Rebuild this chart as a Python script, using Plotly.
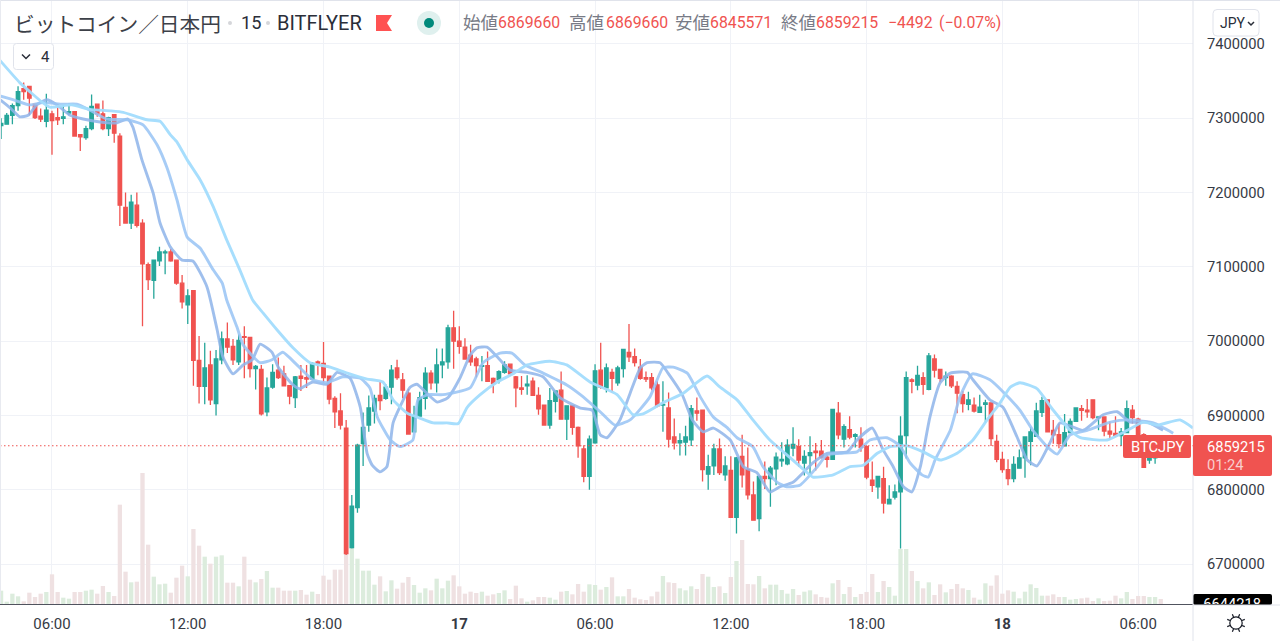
import math
import numpy as np
import plotly.graph_objects as go

# prices are in thousand yen
bars = list(range(-9, 197))

opens = [7290, 7292, 7304, 7317, 7340, 7343, 7319, 7303, 7296,
    7306, 7301, 7300, 7307, 7309, 7278, 7274, 7286, 7319, 7306,
    7286, 7305, 7276, 7180, 7159, 7183, 7159, 7103, 7082, 7108,
    7119, 7120, 7109, 7078, 7049, 7068, 6974, 6939, 6968, 6916,
    6975, 7003, 6993, 6972, 7006, 7005, 6963, 6962, 6905, 6938,
    6961, 6956, 6940, 6924, 6953, 6951, 6949, 6972, 6970, 6953,
    6923, 6906, 6883, 6722, 6776, 6862, 6887, 6906, 6927, 6923,
    6938, 6964, 6948, 6930, 6878, 6899, 6923, 6957, 6944, 6968,
    6972, 7018, 7000, 6992, 6981, 6976, 6966, 6967, 6950, 6948,
    6958, 6969, 6952, 6937, 6940, 6946, 6927, 6914, 6887, 6919,
    6934, 6895, 6913, 6884, 6855, 6818, 6863, 6961, 6937, 6958,
    6944, 6963, 6985, 6979, 6965, 6951, 6951, 6941, 6914, 6910,
    6871, 6863, 6864, 6867, 6906, 6907, 6821, 6832, 6855, 6820,
    6826, 6763, 6845, 6827, 6793, 6761, 6818, 6815, 6828, 6839,
    6835, 6856, 6858, 6836, 6846, 6852, 6852, 6844, 6841, 6903,
    6868, 6881, 6872, 6868, 6858, 6813, 6804, 6815, 6781, 6790,
    6797, 6873, 6948, 6941, 6951, 6935, 6976, 6962, 6951, 6953,
    6939, 6928, 6915, 6914, 6904, 6915, 6917, 6865, 6841, 6827,
    6815, 6829, 6843, 6865, 6872, 6904, 6921, 6880, 6874, 6859,
    6877, 6892, 6909, 6907, 6921, 6897, 6898, 6879, 6876, 6873,
    6877, 6907, 6895, 6874, 6840, 6843, 6869.66]

closes = [7293, 7304, 7317, 7336, 7336, 7327, 7301, 7299, 7311,
    7297, 7298, 7302, 7309, 7276, 7275, 7286, 7316, 7306, 7286,
    7301, 7280, 7183, 7159, 7187, 7156, 7104, 7083, 7109, 7120,
    7120, 7108, 7078, 7053, 7061, 6974, 6939, 6964, 6921, 6976,
    7003, 6992, 6975, 7001, 7005, 6963, 6966, 6902, 6937, 6958,
    6951, 6940, 6926, 6952, 6950, 6949, 6970, 6970, 6951, 6922,
    6905, 6887, 6714, 6778, 6860, 6884, 6910, 6923, 6920, 6938,
    6961, 6951, 6934, 6875, 6899, 6924, 6957, 6944, 6968, 6972,
    7018, 7000, 6993, 6976, 6972, 6967, 6967, 6946, 6943, 6959,
    6968, 6956, 6937, 6935, 6942, 6927, 6909, 6887, 6920, 6933,
    6895, 6913, 6884, 6859, 6818, 6868, 6960, 6938, 6964, 6950,
    6964, 6989, 6979, 6971, 6950, 6949, 6937, 6913, 6915, 6868,
    6863, 6866, 6871, 6909, 6903, 6827, 6831, 6855, 6823, 6832,
    6763, 6843, 6820, 6793, 6759, 6818, 6815, 6829, 6844, 6841,
    6860, 6861, 6840, 6845, 6850, 6850, 6844, 6841, 6908, 6874,
    6885, 6871, 6874, 6857, 6817, 6806, 6818, 6782, 6787, 6797,
    6872, 6951, 6946, 6954, 6942, 6980, 6961, 6950, 6953, 6940,
    6930, 6916, 6921, 6906, 6911, 6917, 6869, 6841, 6827, 6815,
    6834, 6843, 6871, 6878, 6906, 6920, 6878, 6874, 6862, 6877,
    6892, 6910, 6907, 6905, 6897, 6898, 6879, 6875, 6873, 6878,
    6909, 6897, 6874, 6830, 6842, 6844, 6859.215]

highs = [7300, 7307, 7320, 7343, 7348, 7343, 7319, 7313, 7333,
    7310, 7319, 7318, 7320, 7309, 7278, 7290, 7332, 7319, 7324,
    7302, 7305, 7280, 7200, 7197, 7200, 7164, 7106, 7109, 7127,
    7123, 7124, 7109, 7089, 7070, 7069, 7007, 6998, 6987, 6988,
    7013, 7025, 7003, 7009, 7020, 7005, 6968, 6968, 6951, 6969,
    6978, 6967, 6941, 6953, 6968, 6968, 6972, 6974, 6999, 6953,
    6926, 6930, 6894, 6793, 6862, 6904, 6927, 6928, 6945, 6942,
    6968, 6975, 6957, 6936, 6913, 6932, 6965, 6961, 6990, 6990,
    7022, 7041, 7020, 7004, 6995, 6979, 6980, 6986, 6951, 6961,
    6973, 6969, 6953, 6953, 6954, 6951, 6938, 6914, 6937, 6933,
    6959, 6913, 6914, 6885, 6860, 6873, 6969, 6998, 6970, 6963,
    6967, 6989, 7023, 6990, 6976, 6959, 6957, 6946, 6946, 6931,
    6896, 6876, 6886, 6914, 6924, 6907, 6847, 6862, 6869, 6845,
    6845, 6844, 6874, 6857, 6811, 6818, 6838, 6832, 6850, 6864,
    6868, 6884, 6868, 6853, 6872, 6863, 6867, 6849, 6909, 6918,
    6888, 6899, 6876, 6884, 6860, 6838, 6818, 6831, 6806, 6807,
    6899, 6959, 6950, 6967, 6958, 6984, 6982, 6963, 6959, 6954,
    6946, 6933, 6932, 6924, 6928, 6921, 6917, 6874, 6851, 6841,
    6845, 6854, 6871, 6884, 6917, 6925, 6921, 6894, 6889, 6902,
    6896, 6910, 6914, 6922, 6921, 6898, 6899, 6892, 6899, 6883,
    6920, 6914, 6897, 6876, 6845, 6845, 6869.66]

lows = [7272, 7292, 7292, 7310, 7325, 7304, 7299, 7295, 7288,
    7251, 7291, 7292, 7304, 7276, 7256, 7271, 7284, 7302, 7284,
    7276, 7267, 7155, 7159, 7151, 7153, 7020, 7069, 7057, 7101,
    7090, 7107, 7076, 7044, 7023, 6940, 6916, 6915, 6914, 6900,
    6969, 6984, 6968, 6968, 6950, 6951, 6935, 6900, 6899, 6936,
    6949, 6939, 6915, 6910, 6933, 6937, 6948, 6954, 6944, 6915,
    6883, 6881, 6712, 6721, 6769, 6832, 6878, 6889, 6907, 6921,
    6915, 6948, 6923, 6875, 6878, 6898, 6908, 6935, 6931, 6950,
    6963, 6963, 6983, 6975, 6967, 6951, 6946, 6945, 6930, 6943,
    6956, 6953, 6911, 6928, 6928, 6927, 6901, 6887, 6882, 6904,
    6895, 6867, 6874, 6843, 6810, 6800, 6862, 6936, 6931, 6931,
    6940, 6951, 6972, 6966, 6948, 6945, 6934, 6911, 6878, 6857,
    6854, 6846, 6846, 6859, 6893, 6811, 6800, 6820, 6820, 6812,
    6763, 6741, 6803, 6787, 6759, 6744, 6801, 6777, 6806, 6831,
    6833, 6845, 6831, 6819, 6820, 6826, 6842, 6830, 6840, 6868,
    6857, 6868, 6857, 6851, 6814, 6797, 6788, 6768, 6781, 6787,
    6721, 6842, 6930, 6934, 6928, 6934, 6951, 6945, 6940, 6937,
    6903, 6904, 6907, 6904, 6904, 6890, 6859, 6837, 6823, 6806,
    6810, 6829, 6816, 6833, 6871, 6898, 6877, 6862, 6856, 6859,
    6876, 6892, 6893, 6897, 6895, 6880, 6872, 6867, 6871, 6859,
    6876, 6889, 6858, 6830, 6835, 6835, 6845.571]

# volume has no scale on the picture, arbitrary units
volumes = [40, 7, 31, 23, 8, 34, 21, 31, 36,
    89, 36, 19, 16, 36, 36, 40, 43, 31, 54,
    36, 24, 298, 97, 65, 67, 393, 178, 82, 59,
    61, 34, 79, 115, 83, 225, 175, 142, 121, 142,
    146, 64, 64, 53, 142, 73, 65, 75, 99, 49,
    49, 40, 40, 40, 42, 28, 37, 30, 85, 73,
    103, 103, 153, 168, 136, 100, 100, 58, 83, 38,
    71, 46, 64, 81, 57, 34, 47, 41, 76, 47,
    70, 86, 53, 31, 37, 33, 37, 25, 29, 33,
    41, 15, 55, 17, 7, 11, 21, 21, 19, 13,
    37, 39, 29, 60, 37, 59, 57, 43, 51, 80,
    23, 23, 45, 19, 14, 12, 23, 37, 84, 65,
    63, 47, 41, 53, 45, 90, 82, 51, 53, 33,
    81, 129, 192, 60, 59, 84, 47, 58, 58, 42,
    31, 45, 27, 37, 41, 29, 21, 19, 62, 72,
    30, 51, 21, 30, 36, 90, 36, 69, 51, 25,
    165, 165, 99, 69, 47, 65, 27, 59, 35, 45,
    60, 47, 42, 19, 13, 62, 55, 86, 31, 41,
    37, 17, 37, 59, 48, 25, 25, 29, 21, 21,
    13, 15, 17, 19, 9, 17, 9, 10, 25, 17,
    36, 15, 24, 24, 21, 21, 15]

# moving averages, read as vertices along the line
ma_fast_bar = [-9.2, -7.4, -5.7, -4.2, -2.7, -0.9, 0.9, 3.2, 5.5, 8.5, 11.5, 13.4, 14.3, 15.9, 17.9, 19.1,
    20.9, 23, 24.9, 27.4, 29.2, 30.2, 32, 33.8, 35.4, 36.8, 38.9, 40, 42.6, 43.8, 46.1, 48.6, 50.4, 52.7,
    54.5, 55.7, 56.6, 58, 59.2, 60.3, 62.1, 63.3, 64.5, 66.5, 68.1, 70, 72.1, 73.9, 75.1, 76.9, 78.7, 81,
    84, 86.8, 89.8, 93.4, 95.5, 96.9, 98.1, 100.4, 102.2, 104, 105.2, 107.5, 108.9, 111.4, 113.2, 115.1,
    116.9, 119.9, 122.2, 124.6, 126.9, 128.7, 131, 134.5, 137, 140.6, 142.3, 145, 146.9, 148.7, 150.5,
    152, 153.5, 155.2, 157, 158.8, 161.8, 162.8, 165.8, 168.1, 170.6, 172.4, 174.1, 176.4, 178.2, 182.3,
    185.8, 188.3, 190.6, 193.6, 196.4]
ma_fast = [7325, 7314, 7302, 7304, 7318, 7325, 7318, 7304, 7299, 7295, 7294, 7299, 7288, 7244, 7199, 7159,
    7127, 7109, 7108, 7073, 7015, 6979, 6956, 6968, 6975, 6996, 6985, 6965, 6941, 6936, 6945, 6942, 6958,
    6950, 6911, 6849, 6833, 6824, 6831, 6890, 6921, 6938, 6942, 6928, 6918, 6924, 6950, 6981, 6991, 6992,
    6979, 6961, 6958, 6952, 6924, 6910, 6907, 6874, 6870, 6894, 6930, 6964, 6971, 6971, 6957, 6928, 6894,
    6878, 6883, 6867, 6831, 6823, 6797, 6804, 6810, 6836, 6849, 6851, 6867, 6883, 6854, 6831, 6804, 6797,
    6831, 6898, 6944, 6957, 6958, 6948, 6921, 6911, 6871, 6840, 6832, 6863, 6890, 6880, 6901, 6905, 6891,
    6891, 6880]

ma_mid_bar = [-9.2, -6.9, -3.9, -1.6, 1.9, 4.4, 6.7, 9.7, 13.3, 16.1, 18.6, 20.3, 22.1, 23.9, 26.2, 28.5,
    30.1, 30.9, 32.7, 33.8, 36.8, 38.9, 40.8, 43.3, 46.1, 48.6, 51.4, 54.5, 56.2, 57.5, 59.8, 61.5, 63.8,
    64.7, 66.5, 69.1, 73.9, 76.2, 79.2, 81.3, 83.6, 86.8, 91, 93.4, 96.9, 99.5, 102.2, 105.7, 108, 109.8,
    112.3, 114.6, 116.9, 119.3, 121.1, 123.9, 125.7, 128.2, 129.9, 132.2, 135.3, 137, 139.3, 142.3, 144.6,
    147.6, 149.9, 151.7, 153.8, 154.9, 156.1, 158.8, 160.5, 162.7, 165.8, 168.1, 171.1, 173.4, 175.9,
    177.7, 180, 183, 187.1, 190.1, 194.7, 198.2]
ma_mid = [7330, 7325, 7318, 7321, 7319, 7319, 7311, 7299, 7298, 7291, 7264, 7234, 7190, 7140, 7125, 7096,
    7078, 7055, 7019, 6995, 6971, 6975, 6985, 6968, 6948, 6944, 6952, 6950, 6937, 6898, 6867, 6858, 6867,
    6921, 6928, 6928, 6937, 6971, 6984, 6984, 6968, 6957, 6941, 6928, 6905, 6887, 6894, 6925, 6964, 6965,
    6957, 6925, 6898, 6884, 6870, 6858, 6831, 6810, 6804, 6806, 6831, 6847, 6849, 6851, 6867, 6870, 6859,
    6836, 6820, 6817, 6840, 6880, 6925, 6956, 6948, 6932, 6907, 6880, 6858, 6848, 6874, 6880, 6891, 6894,
    6890, 6876]

ma_slow_bar = [-9.2, -5.7, -3.5, -1.8, -0.4, 3.5, 6.7, 10.3, 12.6, 16.8, 19.1, 20.9, 22.1, 23.9, 26.2, 28.5,
    30.9, 33.2, 35.5, 37.3, 39.8, 42.6, 45.6, 49.2, 52.2, 55.7, 58.5, 60.3, 62.8, 64.5, 67.4, 69.8, 71.8,
    73.4, 75.7, 78.7, 81.5, 84, 88, 91, 95.1, 99.9, 102.7, 104.5, 108, 111.6, 115.8, 118.1, 121.1, 123.9,
    126.9, 129.9, 133.5, 134.5, 138.1, 141.1, 143.4, 145.9, 148.2, 151.2, 154, 157, 160, 162.8, 165.3,
    167.6, 169.4, 171.1, 174.1, 177, 180, 181.8, 186.5, 190.1, 192.9, 195.4, 199.4, 201.7]
ma_slow = [7378, 7348, 7333, 7322, 7315, 7318, 7312, 7310, 7308, 7298, 7296, 7278, 7268, 7244, 7217, 7181,
    7136, 7096, 7055, 7038, 7015, 6991, 6971, 6965, 6957, 6949, 6945, 6921, 6903, 6898, 6890, 6890, 6889,
    6911, 6928, 6945, 6956, 6968, 6973, 6968, 6945, 6928, 6901, 6902, 6917, 6930, 6953, 6938, 6921, 6894,
    6867, 6847, 6823, 6817, 6820, 6831, 6833, 6849, 6858, 6859, 6851, 6840, 6849, 6867, 6894, 6917, 6938,
    6944, 6936, 6907, 6880, 6870, 6867, 6880, 6891, 6887, 6894, 6883]

price_ticks = [6700000, 6800000, 6900000, 7000000, 7100000, 7200000, 7300000, 7400000]
time_ticks = [0, 24, 48, 72, 96, 120, 144, 168, 192]
time_labels = ["06:00", "12:00", "18:00", "<b>17</b>", "06:00", "12:00", "18:00", "<b>18</b>", "06:00"]

last_price = 6859215
scale_low_price = 6644218

W, H = 1280, 641
PLOT_R, PLOT_B = 1193, 604
UP, DOWN = "#26a69a", "#f05350"
FONT = "Roboto, 'Noto Sans CJK JP', sans-serif"


def px(x):
    return x / W


def py(y):
    return 1 - y / H


def round_rect(x0, y0, x1, y1, r):
    a, b, c, d = px(x0), py(y0), px(x1), py(y1)
    rx, ry = r / W, r / H
    return (f"M{a + rx},{b} L{c - rx},{b} Q{c},{b} {c},{b - ry} L{c},{d + ry} Q{c},{d} {c - rx},{d} "
            f"L{a + rx},{d} Q{a},{d} {a},{d + ry} L{a},{b - ry} Q{a},{b} {a + rx},{b} Z")


def poly(points, closed=False):
    path = "M" + " L".join(f"{px(x)},{py(y)}" for x, y in points)
    return path + (" Z" if closed else "")


def dot_shape(cx, cy, r, fill, line=None, width=1):
    return dict(type="circle", xref="paper", yref="paper", x0=px(cx - r), x1=px(cx + r), y0=py(cy + r), y1=py(cy - r),
                fillcolor=fill, layer="above", line=dict(color=line or "rgba(0,0,0,0)", width=width if line else 0))


def fill_shape(path, color, line=None, width=1, layer="above"):
    return dict(type="path", path=path, xref="paper", yref="paper", fillcolor=color, layer=layer,
                line=dict(color=line or "rgba(0,0,0,0)", width=width if line else 0))


def line_shape(x0, y0, x1, y1, color, width=1):
    return dict(type="line", xref="paper", yref="paper", x0=px(x0), y0=py(y0), x1=px(x1), y1=py(y1),
                line=dict(color=color, width=width), layer="above")


def text_at(x, y, text, color, size, anchor="left", family=FONT):
    return dict(xref="paper", yref="paper", x=px(x), y=py(y), text=text, showarrow=False, xanchor=anchor,
                yanchor="middle", borderpad=0, font=dict(color=color, size=size, family=family))


open_yen = np.array(opens) * 1000
close_yen = np.array(closes) * 1000
high_yen = np.array(highs) * 1000
low_yen = np.array(lows) * 1000
vol_colors = ["#dcecdd" if c >= o else "#efe1e2" for o, c in zip(opens, closes)]

fig = go.Figure()
fig.add_trace(go.Bar(x=bars, y=volumes, marker_color=vol_colors, marker_line_width=0, hoverinfo="skip"))
fig.add_trace(go.Candlestick(
    x=bars, open=open_yen, high=high_yen, low=low_yen, close=close_yen, yaxis="y2", whiskerwidth=0,
    increasing=dict(line=dict(color=UP, width=1.3), fillcolor=UP),
    decreasing=dict(line=dict(color=DOWN, width=1.3), fillcolor=DOWN),
))
for xs, ys, color, alpha in [(ma_fast_bar, ma_fast, "#8fb5ea", 0.85),
                             (ma_mid_bar, ma_mid, "#98c4f5", 0.85),
                             (ma_slow_bar, ma_slow, "#a3ddfd", 0.95)]:
    fig.add_trace(go.Scatter(x=xs, y=np.array(ys) * 1000, mode="lines", yaxis="y2", opacity=alpha,
                             line=dict(color=color, width=2.9, shape="spline", smoothing=0.5),
                             hoverinfo="skip"))
# lowest price tag sits half outside the pane, so it goes on its own axes to get clipped
fig.add_trace(go.Scatter(x=[0.45], y=[scale_low_price], mode="text", text=[str(scale_low_price)],
                         xaxis="x2", yaxis="y3", cliponaxis=True, hoverinfo="skip",
                         textfont=dict(color="white", size=14.7, family=FONT)))

price_range = [6646200, 7459200]

shapes = [
    dict(type="line", xref="paper", yref="y2", x0=0, x1=px(PLOT_R), y0=last_price, y1=last_price,
         line=dict(color=DOWN, width=1.2, dash="1.5px,2.5px"), layer="above"),
    line_shape(0, 0.5, W, 0.5, "#e0e3eb"),
    line_shape(0.5, 0, 0.5, PLOT_B, "#e8eaf0"),
    line_shape(PLOT_R, 0, PLOT_R, H, "#e0e3eb"),
    line_shape(PLOT_R, PLOT_B + 1, W, PLOT_B + 1, "#e0e3eb"),
    # header marks
    dot_shape(230, 23, 2, "#d5d6da"),
    dot_shape(268, 23, 2, "#d5d6da"),
    fill_shape(poly([(376, 15), (392, 15), (387, 23), (392, 31), (376, 31)], True), "#ff5252"),
    dot_shape(429, 23, 12, "#dff0ee"),
    dot_shape(429, 23, 5, "#00897b"),
    # collapse button and currency button
    fill_shape(round_rect(13.5, 43.5, 53.5, 69.5, 3), "white", "#e0e3eb"),
    fill_shape(poly([(22, 54.5), (26, 58.5), (30, 54.5)]), "rgba(0,0,0,0)", "#2a2e39", 1.5),
    fill_shape(round_rect(1213, 9.5, 1259, 36, 4), "white", "#e0e3eb"),
    fill_shape(poly([(1248, 22), (1251, 25), (1254, 22)]), "rgba(0,0,0,0)", "#2a2e39", 1.5),
    # price tags
    fill_shape(round_rect(1123, 435, 1191, 458, 2), DOWN),
    fill_shape(round_rect(1193, 435, 1272, 476, 2), DOWN),
    fill_shape(round_rect(1193, 594, 1272, 605, 2), "#000000", layer="below"),
    # settings sun
    dot_shape(1236, 623, 6.2, "rgba(0,0,0,0)", "#131722", 1.2),
]
for k in range(8):
    a = k * math.pi / 4 + math.pi / 8
    shapes.append(line_shape(1236 + 6.5 * math.cos(a), 623 + 6.5 * math.sin(a),
                             1236 + 9.5 * math.cos(a), 623 + 9.5 * math.sin(a), "#131722", 1.2))

annotations = [
    text_at(12.5, 23, "ビットコイン／日本円", "#3c4048", 20.7, family="'Noto Sans CJK JP'"),
    text_at(239.5, 23, "15", "#2a2e39", 18.2),
    text_at(276, 23, "BITFLYER", "#2a2e39", 20),
    text_at(461.5, 23, "始値", "#787b86", 17.5),
    text_at(497, 23, "6869660", DOWN, 15.8),
    text_at(568, 23, "高値", "#787b86", 17.5),
    text_at(605, 23, "6869660", DOWN, 15.8),
    text_at(674, 23, "安値", "#787b86", 17.5),
    text_at(708.5, 23, "6845571", DOWN, 15.8),
    text_at(780, 23, "終値", "#787b86", 17.5),
    text_at(815, 23, "6859215", DOWN, 15.8),
    text_at(887, 23, "−4492", DOWN, 15.8),
    text_at(938, 23, "(−0.07%)", DOWN, 15.8),
    text_at(40, 56.5, "4", "#2a2e39", 15),
    text_at(1219, 23, "JPY", "#2a2e39", 14),
    text_at(1157, 446.5, "BTCJPY", "white", 14.7, "center"),
    text_at(1206, 447, "6859215", "white", 14.7),
    text_at(1206, 465, "01:24", "#f9cfce", 14.7),
]

fig.update_layout(
    width=W, height=H, margin=dict(l=0, r=0, t=0, b=0), autosize=False,
    paper_bgcolor="white", plot_bgcolor="white", showlegend=False, hovermode=False,
    bargap=0.24, boxgap=0.12, shapes=shapes, annotations=annotations,
    font=dict(family=FONT),
    xaxis=dict(domain=[0, PLOT_R / W], range=[-9.19, 201.7], tickmode="array", tickvals=time_ticks,
               ticktext=time_labels, showgrid=True, gridcolor="#f0f2f7", gridwidth=1, zeroline=False,
               rangeslider=dict(visible=False), showline=True, linecolor="#50535e", linewidth=1,
               ticks="", ticklabelstandoff=6, tickfont=dict(size=15, color="#363a45", family=FONT)),
    yaxis=dict(domain=[(H - PLOT_B) / H, 1], range=[0, 1812], visible=False, fixedrange=True),
    yaxis2=dict(domain=[(H - PLOT_B) / H, 1], range=price_range, overlaying="y", side="right", anchor="x",
                tickmode="array", tickvals=price_ticks, ticktext=[str(v) for v in price_ticks],
                showgrid=True, gridcolor="#f0f2f7", gridwidth=1, zeroline=False, showline=False,
                ticks="", ticklabelstandoff=13, tickfont=dict(size=14.7, color="#363a45", family=FONT)),
    xaxis2=dict(domain=[PLOT_R / W, 1], range=[0, 1], visible=False, anchor="y3"),
    yaxis3=dict(domain=[(H - PLOT_B) / H, 1], range=price_range, visible=False, anchor="x2"),
)

fig.write_html("out.html", config=dict(displayModeBar=False),
               post_script="document.body.style.margin='0';document.body.style.overflow='hidden';")
